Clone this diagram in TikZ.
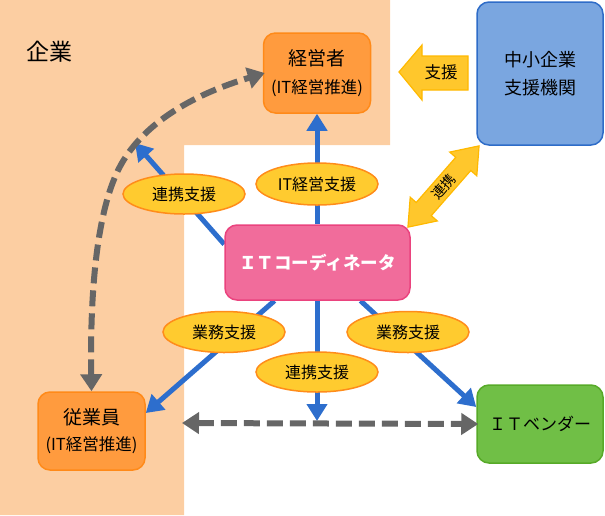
\documentclass[tikz,border=0pt]{standalone}
\usepackage{fontspec}
\setmainfont{Noto Sans CJK JP}
\usetikzlibrary{arrows.meta,shapes.geometric}
\definecolor{peach}{RGB}{252,206,162}
\definecolor{boxorange}{RGB}{255,155,62}
\definecolor{boxorangeb}{RGB}{255,138,25}
\definecolor{boxblue}{RGB}{122,166,224}
\definecolor{boxblueb}{RGB}{46,108,200}
\definecolor{boxpink}{RGB}{241,108,155}
\definecolor{boxpinkb}{RGB}{234,67,126}
\definecolor{boxgreen}{RGB}{112,191,70}
\definecolor{boxgreenb}{RGB}{87,170,40}
\definecolor{ellfill}{RGB}{255,203,47}
\definecolor{ellborder}{RGB}{255,140,26}
\definecolor{arrowblue}{RGB}{45,110,205}
\definecolor{dashgray}{RGB}{102,102,102}
\definecolor{goldfill}{RGB}{255,199,44}
\definecolor{goldborder}{RGB}{255,185,0}
\pgfdeclarelayer{back}
\pgfdeclarelayer{lines}
\pgfsetlayers{back,lines,main}
\begin{document}
\begin{tikzpicture}[x=1pt,y=-1pt,
  box/.style={draw, line width=1.5pt, rounded corners=12pt, align=center, inner sep=0pt},
  lbl/.style={ellipse, draw=ellborder, fill=ellfill, line width=1.5pt, inner sep=0pt,
    minimum width=122pt, minimum height=40pt, font=\fontsize{16}{19}\selectfont},
  bluearrow/.style={draw=arrowblue, line width=5pt, -{Triangle[length=17pt,width=20pt]}},
  grayarrow/.style={draw=dashgray, line width=6pt, dash pattern=on 16pt off 7pt,
    {Triangle[length=17pt,width=21pt]}-{Triangle[length=17pt,width=21pt]}},
  titlefont/.style={font=\fontsize{19}{28}\selectfont}
]
\useasboundingbox (0,0) rectangle (605,515);
\begin{pgfonlayer}{back}
  \fill[peach] (0,0) -- (390,0) -- (390,145) -- (184,145) -- (184,515) -- (0,515) -- cycle;
\end{pgfonlayer}
\node[font=\fontsize{23}{26}\selectfont] (kigyo) at (50,52) {企業};

% boxes
\node[box, draw=boxorangeb, fill=boxorange, minimum width=107pt, minimum height=80pt, titlefont]
  (keiei) at (317,73) {経営者\\[0pt]{\fontsize{16.5}{28}\selectfont (IT経営推進)}};
\node[box, draw=boxblueb, fill=boxblue, minimum width=126pt, minimum height=143pt,
  font=\fontsize{18}{28}\selectfont] (shien) at (540,73.5) {中小企業\\支援機関};
\node[box, draw=boxpinkb, fill=boxpink, minimum width=185pt, minimum height=75pt,
  text=white, font=\fontsize{17.5}{20}\selectfont\bfseries] (itc) at (317.5,262.5) {ＩＴコーディネータ};
\node[box, draw=boxorangeb, fill=boxorange, minimum width=107pt, minimum height=78pt, titlefont]
  (jugyo) at (91.5,431) {従業員\\[-2pt]{\fontsize{16.5}{28}\selectfont (IT経営推進)}};
\node[box, draw=boxgreenb, fill=boxgreen, minimum width=126pt, minimum height=78pt,
  font=\fontsize{17}{20}\selectfont] (vendor) at (540,424) {ＩＴベンダー};

% coordinates for free ends
\coordinate (ulend) at (135,143);
\coordinate (downend) at (317,421);
\coordinate (hleft) at (182,423);
\coordinate (curvemid) at (115,177);

\begin{pgfonlayer}{lines}
  \draw[bluearrow] ([yshift=-20pt]itc.north west) -- (ulend);
  \draw[bluearrow] (itc.north -| keiei.south) -- (keiei.south);
  \draw[bluearrow] ([xshift=-43pt]itc.south) -- ([yshift=18pt]jugyo.east);
  \draw[bluearrow] (itc.south -| downend) -- (downend);
  \draw[bluearrow] ([xshift=43pt]itc.south) -- ([yshift=17pt]vendor.west);
\end{pgfonlayer}

% gray dashed connectors
\draw[grayarrow] (hleft) -- ([xshift=2pt]vendor.west);
\draw[grayarrow] (jugyo.north) .. controls (90,300) and (95.5,223) .. (curvemid)
  .. controls (142,112) and (222,86) .. ([xshift=2pt]keiei.west);

% labels on arrows
\node[lbl] (l1) at (184,194) {連携支援};
\node[lbl, minimum height=42pt] (l2) at (317,184) {IT経営支援};
\node[lbl, minimum height=41pt] (l3) at (224,332) {業務支援};
\node[lbl, minimum height=41pt] (l4) at (408,332) {業務支援};
\node[lbl] (l5) at (317,372) {連携支援};

% support block arrow
\filldraw[fill=goldfill, draw=goldborder, line width=1.2pt, line join=miter]
  (399,72) -- (422,45) -- (422,56) -- (468,56) -- (468,90) -- (422,90) -- (422,100) -- cycle;
\node[font=\fontsize{16.5}{19}\selectfont] (shienlbl) at (441,72) {支援};

% cooperation double arrow
\begin{scope}[shift={(443.5,186.5)}, rotate=48.8]
  \filldraw[fill=goldfill, draw=goldborder, line width=1.2pt, line join=miter]
    (-54,0) -- (-30,18) -- (-30,10) -- (30,10) -- (30,18) -- (54,0) -- (30,-18) -- (30,-10)
    -- (-30,-10) -- (-30,-18) -- cycle;
  \node[rotate=48.8, inner sep=0pt, font=\fontsize{14}{16}\selectfont] (renkei) at (0,0) {連携};
\end{scope}
\end{tikzpicture}
\end{document}
